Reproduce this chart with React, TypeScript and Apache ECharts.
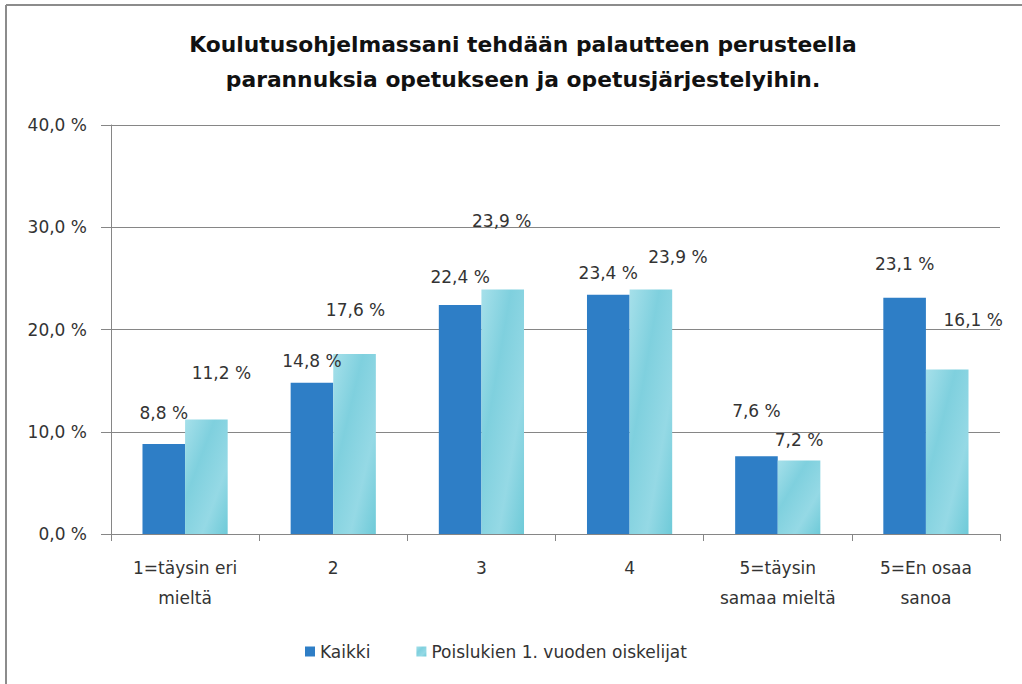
import React, { useEffect, useRef } from "react";
import * as echarts from "echarts";

const categories = ["1=täysin eri\nmieltä", "2", "3", "4", "5=täysin\nsamaa mieltä", "5=En osaa\nsanoa"];
const seriesNames = ["Kaikki", "Poislukien 1. vuoden oiskelijat"];
const kaikki = [8.8, 14.8, 22.4, 23.4, 7.6, 23.1];
const poislukien = [11.2, 17.6, 23.9, 23.9, 7.2, 16.1];
const yTicks = [0, 10, 20, 30, 40];

// manual label placements, as in the original chart
const kaikkiLabelOffsets = [[0, -18], [0, -8], [0, -14], [0, -8], [0, -32], [0, -20]];
const poisLabelOffsets = [[15, -33], [1, -31], [-1, -55], [27, -19], [0, -7], [26, -36]];

const fmt = (v: number) => v.toFixed(1).replace(".", ",") + " %";
const FONT = "'DejaVu Sans', sans-serif";

export default function App() {
  const ref = useRef<HTMLDivElement>(null);
  useEffect(() => {
    if (!ref.current) return;
    const chart = echarts.init(ref.current, null, { renderer: "svg" });
    const cyan = new echarts.graphic.LinearGradient(0, 0, 1, 1, [
      { offset: 0, color: "#a6e0ea" },
      { offset: 0.35, color: "#7fd0de" },
      { offset: 0.7, color: "#95d9e5" },
      { offset: 1, color: "#6ecad8" },
    ]);
    const labelBase = {
      show: true,
      position: "top",
      distance: 5,
      fontSize: 17,
      color: "#333",
      fontFamily: FONT,
      formatter: (p: any) => fmt(p.value),
    };
    chart.setOption({
      animation: false,
      backgroundColor: "#fff",
      textStyle: { fontFamily: FONT },
      title: {
        text: "Koulutusohjelmassani tehdään palautteen perusteella\nparannuksia opetukseen ja opetusjärjestelyihin.",
        left: 518,
        textAlign: "center",
        top: 22,
        textStyle: { fontSize: 21.8, fontWeight: "bold", color: "#111", lineHeight: 35, fontFamily: FONT },
      },
      legend: {
        bottom: 19,
        left: 300,
        itemWidth: 10,
        itemHeight: 10,
        itemGap: 46,
        icon: "rect",
        textStyle: { fontSize: 17, color: "#333", fontFamily: FONT },
        data: seriesNames,
      },
      grid: { left: 111, right: 22, top: 125, bottom: 150 },
      xAxis: {
        type: "category",
        data: categories,
        axisLine: { lineStyle: { color: "#868686" } },
        axisTick: { show: true, alignWithLabel: false, length: 7, lineStyle: { color: "#868686" } },
        axisLabel: { fontSize: 17, color: "#333", lineHeight: 30, margin: 19, interval: 0, fontFamily: FONT },
      },
      yAxis: {
        type: "value",
        min: yTicks[0],
        max: yTicks[yTicks.length - 1],
        interval: 10,
        axisLine: { show: true, lineStyle: { color: "#868686" } },
        axisTick: { show: true, length: 10, lineStyle: { color: "#868686" } },
        splitLine: { lineStyle: { color: "#868686", width: 1 } },
        axisLabel: { fontSize: 17, color: "#333", margin: 24, formatter: (v: number) => fmt(v), fontFamily: FONT },
      },
      series: [
        {
          name: seriesNames[0],
          type: "bar",
          barGap: "0%",
          barCategoryGap: "42.5%",
          itemStyle: { color: "#2e7ec6" },
          data: kaikki.map((v, i) => ({ value: v, label: { ...labelBase, offset: kaikkiLabelOffsets[i] } })),
        },
        {
          name: seriesNames[1],
          type: "bar",
          barGap: "0%",
          barCategoryGap: "42.5%",
          itemStyle: { color: cyan },
          data: poislukien.map((v, i) => ({ value: v, label: { ...labelBase, offset: poisLabelOffsets[i] } })),
        },
      ],
      graphic: [
        { type: "line", shape: { x1: 6, y1: 5, x2: 1022, y2: 5 }, style: { stroke: "#8c8c8c", lineWidth: 2 } },
        { type: "line", shape: { x1: 6, y1: 5, x2: 6, y2: 684 }, style: { stroke: "#8c8c8c", lineWidth: 2 } },
      ],
    });
    return () => chart.dispose();
  }, []);
  return <div ref={ref} style={{ position: "fixed", left: 0, top: 0, width: 1022, height: 684 }} />;
}
